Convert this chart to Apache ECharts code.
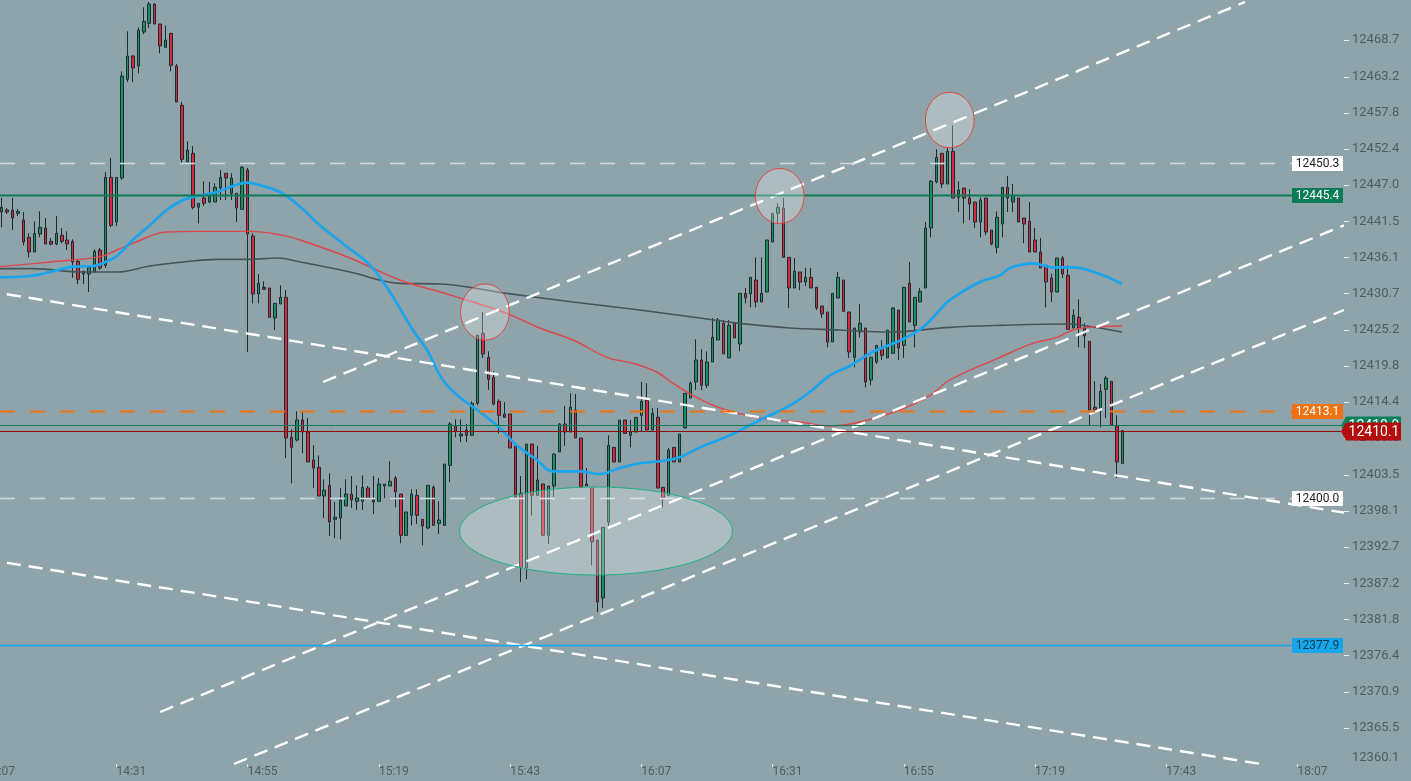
<!DOCTYPE html>
<html><head><meta charset="utf-8">
<script src="https://cdn.jsdelivr.net/npm/echarts@6.0.0/dist/echarts.min.js"></script>
<style>html,body{margin:0;padding:0;background:#8fa3ab;overflow:hidden}#chart{width:1411px;height:781px;}</style>
</head><body><div id="chart"></div>
<script>
// ---- time axis: minutes after 14:07 ----
const axisStartLabel = '14:07';
const xTickValues = [0, 24, 48, 72, 96, 120, 144, 168, 192, 216, 240];
const yTickLabels = [12360.1, 12365.5, 12370.9, 12376.4, 12381.8, 12387.2, 12392.7, 12398.1, 12403.5, 12409.0,
  12414.4, 12419.8, 12425.2, 12430.7, 12436.1, 12441.5, 12447.0, 12452.4, 12457.8, 12463.2, 12468.7];

// ---- 1-minute candles, first one at 14:10 ----
const firstCandleMinute = 3;
const openP = [
12442.9,12443.2,12443.2,12442.7,12441.7,12439.1,12436.9,12439.6,12440.5,12438.5,
12438.1,12439.4,12438.7,12438.5,12435.5,12433.6,12433.6,12433.9,12437.2,12434.9,
12448.1,12441.4,12448.0,12462.8,12466.3,12464.8,12469.9,12471.2,12474.1,12471.1,
12467.6,12469.7,12464.8,12458.9,12450.4,12451.7,12443.6,12445.0,12444.4,12444.4,
12446.5,12448.7,12445.7,12445.7,12443.3,12449.2,12439.3,12430.6,12431.6,12431.5,
12427.0,12429.1,12430.1,12409.1,12408.7,12411.7,12409.9,12405.7,12404.6,12400.3,
12401.9,12396.8,12397.0,12398.8,12400.6,12399.5,12399.5,12401.5,12399.7,12399.5,
12401.8,12401.8,12403.0,12400.6,12394.4,12397.4,12400.4,12396.8,12395.5,12401.6,
12396.2,12395.9,12404.9,12410.8,12409.3,12410.2,12409.4,12414.2,12424.7,12421.1,
12418.1,12414.5,12412.6,12412.6,12407.8,12400.7,12389.5,12408.1,12400.4,12402.1,
12394.4,12401.8,12406.9,12411.1,12409.9,12413.2,12409.0,12402.1,12401.5,12393.7,
12385.0,12396.4,12407.6,12405.4,12411.7,12409.4,12409.9,12412.4,12414.7,12410.2,
12412.1,12401.6,12400.4,12407.6,12405.4,12410.5,12415.0,12417.4,12420.7,12416.9,
12420.4,12423.7,12426.2,12421.0,12426.2,12423.1,12430.7,12430.6,12432.7,12429.4,
12430.9,12438.4,12442.7,12443.5,12436.1,12431.5,12433.9,12432.4,12433.1,12431.6,
12428.8,12427.9,12423.4,12430.0,12432.7,12427.9,12421.1,12424.9,12425.5,12417.7,
12420.4,12422.5,12421.0,12421.7,12428.2,12422.9,12432.2,12425.9,12429.4,12431.5,
12440.5,12447.4,12451.7,12447.1,12452.0,12445.1,12446.5,12445.0,12444.4,12441.4,
12445.0,12440.2,12437.6,12441.1,12446.6,12444.4,12445.0,12442.0,12441.5,12438.7,
12436.9,12434.9,12433.0,12430.9,12436.0,12433.4,12425.5,12427.1,12425.5,12423.5,
12413.6,12413.2,12416.3,12417.5,12410.8,12405.2];
const closeP = [
12443.6,12442.9,12442.0,12443.0,12438.4,12436.9,12439.7,12440.6,12438.1,12438.1,
12439.7,12438.5,12438.1,12435.4,12432.8,12434.0,12434.6,12437.0,12434.5,12448.1,
12440.9,12448.1,12463.3,12466.3,12464.5,12470.2,12471.5,12474.1,12471.1,12467.8,
12468.7,12464.9,12459.4,12450.8,12452.2,12443.6,12444.2,12444.2,12445.7,12446.6,
12448.1,12448.0,12448.0,12443.5,12449.6,12439.6,12430.6,12432.2,12431.3,12427.1,
12429.2,12430.1,12409.0,12407.6,12411.7,12409.9,12405.4,12404.5,12400.3,12401.2,
12396.4,12397.1,12399.7,12400.6,12399.7,12400.0,12401.6,12400.0,12399.4,12402.1,
12402.1,12402.5,12400.9,12394.4,12397.9,12400.6,12397.4,12395.8,12401.9,12395.9,
12396.7,12405.1,12411.1,12410.0,12409.6,12409.4,12414.2,12424.4,12421.6,12417.8,
12414.1,12412.4,12412.1,12407.5,12400.1,12389.6,12408.1,12400.4,12402.7,12394.4,
12401.8,12406.6,12411.1,12409.9,12413.6,12409.0,12401.6,12401.8,12393.4,12384.4,
12395.6,12407.9,12405.4,12411.7,12409.7,12409.9,12412.1,12414.5,12410.2,12412.7,
12401.5,12400.0,12407.2,12405.4,12409.6,12415.7,12417.2,12420.7,12416.9,12420.4,
12424.1,12426.7,12421.6,12425.9,12424.0,12430.7,12430.0,12433.1,12429.4,12430.7,
12438.7,12442.7,12443.6,12436.1,12431.5,12434.0,12432.4,12433.1,12431.5,12428.5,
12427.6,12423.4,12430.7,12433.1,12428.0,12421.9,12425.5,12426.2,12417.4,12421.1,
12422.9,12421.4,12425.2,12428.5,12422.5,12431.6,12426.4,12430.1,12431.0,12440.5,
12447.5,12451.1,12447.1,12452.0,12445.0,12446.2,12445.0,12444.1,12441.4,12444.7,
12439.9,12438.1,12442.1,12446.6,12445.0,12445.4,12441.4,12441.1,12436.9,12436.9,
12434.5,12432.4,12430.9,12436.0,12433.6,12425.3,12427.4,12425.5,12424.3,12413.2,
12413.2,12416.0,12418.0,12410.9,12405.4,12410.1];
const lowP = [
12440.6,12442.6,12440.2,12442.3,12437.9,12436.1,12436.9,12439.1,12438.1,12437.9,
12437.9,12438.2,12437.2,12433.0,12432.1,12432.1,12430.9,12433.9,12434.2,12434.5,
12440.6,12440.8,12447.7,12462.4,12462.4,12463.7,12469.6,12470.5,12471.1,12466.7,
12467.6,12464.0,12459.4,12450.2,12450.4,12443.3,12441.2,12443.8,12444.2,12444.4,
12444.7,12444.7,12444.7,12441.4,12443.3,12421.9,12429.2,12429.2,12431.3,12427.1,
12425.2,12429.1,12406.0,12402.2,12408.5,12406.7,12405.4,12401.5,12400.3,12397.0,
12394.3,12394.0,12393.8,12398.8,12398.5,12398.2,12398.2,12400.0,12397.6,12399.5,
12400.0,12401.8,12398.6,12393.2,12394.3,12395.9,12396.1,12392.9,12395.3,12395.9,
12394.6,12395.8,12402.4,12409.1,12408.4,12408.4,12409.4,12413.9,12421.0,12416.2,
12413.9,12409.7,12412.1,12407.5,12400.1,12387.4,12387.8,12397.4,12400.4,12394.4,
12393.1,12400.1,12406.9,12407.8,12409.9,12409.0,12401.6,12401.8,12389.9,12382.9,
12383.5,12395.8,12405.4,12405.4,12409.7,12407.6,12409.9,12409.9,12410.2,12410.2,
12401.5,12398.6,12400.4,12405.4,12405.4,12410.5,12415.0,12416.2,12416.2,12416.5,
12420.4,12423.7,12421.6,12421.0,12424.0,12422.0,12429.2,12428.6,12428.6,12429.4,
12430.9,12438.4,12441.2,12436.1,12428.5,12431.5,12431.2,12431.8,12431.5,12428.2,
12427.0,12422.6,12423.4,12430.0,12428.0,12421.0,12419.6,12424.1,12416.6,12416.9,
12420.1,12420.7,12421.0,12421.7,12420.7,12421.0,12426.4,12422.6,12429.4,12431.5,
12439.1,12447.2,12446.5,12447.1,12445.0,12442.9,12441.2,12441.7,12440.5,12439.1,
12439.4,12437.9,12436.7,12439.1,12442.9,12442.9,12441.4,12438.2,12436.9,12436.9,
12434.5,12428.6,12429.4,12430.9,12433.0,12425.3,12425.5,12422.6,12422.5,12410.9,
12413.2,12410.6,12412.0,12410.9,12403.0,12405.2];
const highP = [
12445.0,12443.5,12445.0,12443.3,12442.9,12439.7,12441.5,12443.0,12442.0,12439.0,
12442.3,12440.5,12440.0,12438.8,12435.8,12434.0,12434.6,12437.3,12437.5,12448.9,
12451.0,12448.1,12464.0,12470.0,12466.4,12470.6,12473.6,12474.4,12474.2,12471.1,
12470.9,12469.7,12465.1,12459.4,12453.5,12452.8,12444.2,12447.5,12447.4,12447.2,
12449.2,12448.7,12448.7,12445.7,12449.8,12449.5,12439.7,12433.6,12432.5,12431.5,
12429.2,12431.9,12431.2,12410.3,12413.0,12413.0,12412.0,12407.9,12406.4,12402.8,
12403.7,12399.4,12401.5,12402.8,12403.3,12401.9,12403.4,12401.8,12403.3,12403.0,
12402.1,12405.5,12403.3,12400.6,12397.9,12401.3,12401.3,12396.8,12401.9,12401.9,
12399.5,12405.1,12411.4,12411.8,12411.8,12411.1,12414.5,12424.4,12427.9,12422.0,
12419.0,12414.8,12414.4,12412.6,12407.8,12403.3,12408.1,12408.1,12407.8,12402.1,
12401.8,12406.7,12411.2,12413.8,12415.7,12415.6,12409.0,12404.5,12401.5,12393.7,
12395.6,12409.4,12407.6,12411.7,12411.7,12411.7,12412.1,12417.4,12417.2,12413.5,
12413.5,12401.6,12407.5,12407.6,12409.6,12415.7,12417.5,12423.8,12422.3,12422.0,
12427.0,12427.0,12426.7,12426.7,12426.2,12430.7,12431.5,12433.1,12436.1,12436.1,
12438.7,12442.7,12444.2,12445.0,12436.1,12436.0,12433.9,12434.5,12434.5,12431.6,
12428.8,12427.9,12430.7,12433.9,12432.7,12427.9,12425.5,12429.1,12425.5,12421.1,
12422.9,12423.7,12425.2,12428.6,12428.2,12431.6,12435.4,12430.1,12431.5,12441.4,
12447.7,12452.3,12451.7,12452.5,12455.9,12447.5,12446.5,12446.3,12444.4,12445.1,
12445.0,12440.2,12443.0,12446.6,12448.3,12447.1,12445.0,12442.0,12444.4,12440.5,
12439.0,12434.9,12433.7,12436.0,12436.3,12434.9,12428.3,12429.8,12426.2,12423.5,
12417.5,12417.1,12418.3,12417.5,12412.4,12410.1];

// ---- moving averages: [minute after 14:07, price] ----
const fastMA = [[2.7,12433.1],[8.2,12433.3],[11.9,12433.9],[16.1,12434.7],[19.7,12434.8],[22.8,12435.7],[24.1,12436.3],
  [27.0,12438.7],[30.1,12440.9],[33.2,12443.2],[36.2,12444.7],[39.3,12445.4],[42.4,12445.9],[45.3,12446.8],[47.9,12447.3],
  [50.3,12446.9],[53.9,12445.9],[57.6,12443.7],[61.2,12440.9],[65.8,12437.9],[70.4,12434.9],[74.0,12430.9],[78.2,12425.2],
  [80.8,12422.2],[83.7,12417.7],[86.8,12415.1],[90.5,12412.9],[94.1,12410.5],[97.2,12407.9],[100.9,12405.7],[103.8,12404.0],
  [108.8,12404.0],[112.4,12403.6],[116.1,12404.5],[119.7,12405.2],[123.4,12405.5],[127.0,12406.1],[130.7,12407.6],
  [136.2,12409.4],[141.7,12411.7],[147.2,12413.9],[150.8,12415.9],[154.5,12418.4],[158.1,12419.8],[162.3,12421.9],
  [167.8,12423.8],[171.5,12425.6],[174.6,12428.2],[176.4,12429.7],[181.9,12432.4],[185.6,12433.4],[187.4,12434.5],
  [191.6,12435.2],[195.2,12434.6],[198.9,12434.6],[203.8,12433.6],[207.9,12432.1]];
const midMA = [[2.7,12434.7],[11.9,12435.4],[21.0,12436.2],[24.1,12437.2],[27.0,12438.2],[33.2,12439.9],[39.3,12440.0],
  [48.4,12440.0],[54.5,12439.4],[57.6,12438.7],[66.7,12436.0],[75.8,12432.7],[83.2,12430.9],[89.2,12429.4],[95.4,12427.7],
  [101.4,12425.5],[107.5,12423.7],[113.7,12421.1],[118.5,12420.2],[122.8,12418.9],[125.8,12417.2],[129.4,12415.4],
  [134.4,12413.5],[141.7,12412.0],[149.0,12411.4],[154.5,12410.8],[160.0,12411.4],[167.3,12413.2],[172.8,12415.4],
  [176.4,12417.7],[185.6,12421.1],[191.6,12423.2],[196.0,12424.1],[198.9,12425.2],[201.5,12425.6],[207.9,12425.8]];
const slowMA = [[2.7,12434.4],[8.7,12434.4],[17.9,12433.9],[24.1,12433.9],[30.1,12434.8],[36.2,12435.4],[42.4,12435.8],
  [48.4,12435.8],[53.4,12436.0],[57.6,12435.4],[66.7,12433.9],[75.8,12432.2],[83.2,12432.1],[95.4,12430.7],[107.5,12429.4],
  [119.7,12428.2],[130.7,12427.0],[138.0,12426.2],[147.2,12425.5],[156.3,12425.2],[165.4,12424.9],[176.4,12425.6],
  [185.6,12425.9],[197.8,12426.1],[201.5,12425.8],[207.9,12424.9]];

// ---- drawn trend lines (white dashed): [[minute, price],[minute, price]] ----
const trendLines = [
  [[61.8, 12417.4], [230.4, 12474.4]],
  [[32.0, 12367.9], [248.5, 12440.9]],
  [[45.5, 12360.1], [248.5, 12428.2]],
  [[0, 12431.1], [248.5, 12397.8]],
  [[0, 12390.8], [233.3, 12360.1]]
];
// ---- highlight ellipses: [minute, price, half-width in minutes, half-height in price] ----
const markerEllipses = [
  [91.4, 12427.9, 4.45, 4.2],
  [145.3, 12445.3, 4.45, 4.12],
  [176.4, 12456.7, 4.45, 4.15],
  [111.7, 12395.05, 24.95, 6.6]
];
// ---- horizontal levels with right-hand tags ----
const levelPrices = [12450.3, 12445.4, 12413.1, 12400.0, 12377.9];
const quotePrices = [12410.9, 12410.1];

const levelStyles = [
  {line: '#cfd7da', width: 1.6, dash: [15, 15], bg: '#ffffff', fg: '#1d1d1d'},
  {line: '#0a7d58', width: 2, dash: null, bg: '#0a7d58', fg: '#ffffff'},
  {line: '#f07212', width: 2, dash: [15, 15], bg: '#f07212', fg: '#ffffff'},
  {line: '#cfd7da', width: 1.6, dash: [15, 15], bg: '#ffffff', fg: '#1d1d1d'},
  {line: '#16a6ec', width: 1.6, dash: null, bg: '#16a6ec', fg: '#0a3c52'}
];
const quoteStyles = [
  {line: '#0d7a55', bg: '#0b8159'},
  {line: '#8e0c0c', bg: '#b30c0c'}
];
const tickColor = '#e4eaec';
const labelColor = '#4f5c64';

function fmtTime(v) {
  const p = axisStartLabel.split(':');
  const t = (+p[0]) * 60 + (+p[1]) + Math.round(v);
  const h = Math.floor(t / 60), m = t % 60;
  return String(h).padStart(2, '0') + ':' + String(m).padStart(2, '0');
}

const candles = openP.map((o, i) => [firstCandleMinute + i, o, closeP[i], lowP[i], highP[i]]);

const chart = echarts.init(document.getElementById('chart'), null, {renderer: 'canvas'});

const series = [
  {
    type: 'candlestick', data: candles, encode: {x: 0, y: [1, 2, 3, 4]},
    barWidth: 3, z: 2,
    itemStyle: {color: '#18935f', color0: '#d8283a', borderColor: '#1f2a30', borderColor0: '#1f2a30', borderWidth: 1}
  },
  {type: 'line', data: slowMA, smooth: 0.4, showSymbol: false, z: 3, lineStyle: {color: '#47535b', width: 1.6}},
  {type: 'line', data: midMA, smooth: 0.4, showSymbol: false, z: 3, lineStyle: {color: '#e0474a', width: 1.4}},
  {type: 'line', data: fastMA, smooth: 0.4, showSymbol: false, z: 3, lineStyle: {color: '#18a6f0', width: 2.6}}
];
trendLines.forEach(tl => series.push({
  type: 'line', data: tl, showSymbol: false, z: 4, silent: true,
  lineStyle: {color: '#ffffff', width: 2.4, type: [14, 8]}
}));
series.push({
  type: 'custom', z: 5, silent: true,
  data: levelPrices.map(p => [10, p]), encode: {x: 0, y: 1},
  renderItem(params, api) {
    const st = levelStyles[params.dataIndex];
    const price = api.value(1);
    const y = Math.round(api.coord([10, price])[1]) + 0.5;
    const cs = params.coordSys;
    const right = cs.x + cs.width;
    const bw = 51, bh = 15;
    return {type: 'group', children: [
      {type: 'line', shape: {x1: 0, y1: y, x2: right - bw - 1, y2: y},
        style: {stroke: st.line, lineWidth: st.width, lineDash: st.dash}},
      {type: 'rect', shape: {x: right - bw - 1, y: y - bh / 2, width: bw, height: bh}, style: {fill: st.bg}},
      {type: 'text', style: {x: right - bw / 2 - 1, y: y + 0.5, text: price.toFixed(1), fill: st.fg,
        font: '12px Roboto', align: 'center', verticalAlign: 'middle'}}
    ]};
  }
});
series.push({
  type: 'custom', z: 6, silent: true,
  data: markerEllipses,
  encode: {x: 0, y: 1},
  renderItem(params, api) {
    const c = api.coord([api.value(0), api.value(1)]);
    const s = api.size([api.value(2), api.value(3)]);
    const green = params.dataIndex === 3;
    return {type: 'ellipse', shape: {cx: c[0], cy: c[1], rx: s[0], ry: s[1]},
      style: {fill: 'rgba(255,255,255,0.27)', stroke: green ? '#1bb184' : '#e2453f', lineWidth: 1}};
  }
});
// y-axis tick marks (short light dashes beside the price labels)
series.push({
  type: 'custom', z: 1, silent: true, clip: false,
  data: yTickLabels.slice(1).map(v => [10, v]), encode: {x: 0, y: 1},
  renderItem(params, api) {
    const y = Math.round(api.coord([10, api.value(1)])[1]) + 0.5;
    const cs = params.coordSys;
    const r = cs.x + cs.width;
    return {type: 'line', shape: {x1: r, y1: y, x2: r + 5, y2: y}, style: {stroke: tickColor, lineWidth: 1}};
  }
});
series.push({
  type: 'custom', z: 7, silent: true, clip: false,
  data: quotePrices.map(p => [10, p]), encode: {x: 0, y: 1},
  renderItem(params, api) {
    const st = quoteStyles[params.dataIndex];
    const price = api.value(1);
    const y = Math.round(api.coord([10, price])[1]) + 0.5;
    const cs = params.coordSys;
    const tip = cs.x + cs.width - 3;
    const h = 9;
    return {type: 'group', children: [
      {type: 'line', shape: {x1: 0, y1: y, x2: tip, y2: y}, style: {stroke: st.line, lineWidth: 1}},
      {type: 'polygon', shape: {points: [[tip, y], [tip + 5, y - h], [tip + 60, y - h], [tip + 60, y + h], [tip + 5, y + h]]},
        style: {fill: st.bg}},
      {type: 'text', style: {x: tip + 33, y: y + 0.5, text: price.toFixed(1), fill: '#ffffff',
        font: '14px Roboto', align: 'center', verticalAlign: 'middle'}}
    ]};
  }
});

const xMin = 2.706, xMax = 248.5;
chart.setOption({
  animation: false,
  backgroundColor: '#8fa3ab',
  grid: {left: 0, right: 67, top: 0, bottom: 17, containLabel: false},
  xAxis: {
    type: 'value', min: xMin, max: xMax,
    splitLine: {show: false}, axisLine: {show: false},
    axisTick: {show: true, customValues: xTickValues.slice(1), length: 3, lineStyle: {color: tickColor, width: 1}},
    axisLabel: {customValues: xTickValues.slice(1), formatter: v => fmtTime(v), align: 'left', margin: 2,
      color: labelColor, fontSize: 12, fontFamily: 'Roboto'}
  },
  yAxis: {
    type: 'value', position: 'right', min: 12360.1, max: 12474.7, scale: true,
    splitLine: {show: false}, axisLine: {show: false}, axisTick: {show: false},
    axisLabel: {customValues: yTickLabels.slice(1), formatter: v => v.toFixed(1), margin: 8,
      color: labelColor, fontSize: 13, fontFamily: 'Roboto'}
  },
  series
});

// first time label sits left of the visible range, so only its tail shows;
// the lowest price label sits on the bottom edge and is nudged up inside the chart
const firstTickX = chart.convertToPixel({xAxisIndex: 0}, xTickValues[0]);
const bottomLabelY = chart.convertToPixel({yAxisIndex: 0}, yTickLabels[0]);
const gridRight = chart.convertToPixel({xAxisIndex: 0}, xMax);
chart.setOption({graphic: [
  {type: 'text', x: firstTickX, y: 766, silent: true,
    style: {text: fmtTime(xTickValues[0]), fill: labelColor, font: '12px Roboto', align: 'left', verticalAlign: 'top'}},
  {type: 'text', x: gridRight + 8, y: bottomLabelY - 6, silent: true,
    style: {text: yTickLabels[0].toFixed(1), fill: labelColor, font: '13px Roboto', align: 'left', verticalAlign: 'middle'}}
]});
</script></body></html>
